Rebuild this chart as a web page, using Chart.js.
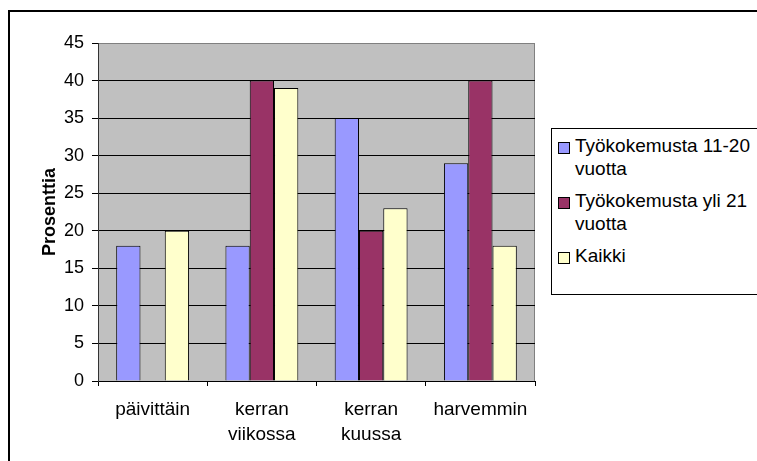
<!DOCTYPE html>
<html>
<head>
<meta charset="utf-8">
<script src="https://cdn.jsdelivr.net/npm/chart.js@4.4.1/dist/chart.umd.min.js"></script>
<style>
  html, body { margin: 0; padding: 0; background: #fff; overflow: hidden; }
  #wrap { position: relative; width: 757px; height: 461px; }
  #frame {
    position: absolute; left: 8px; top: 10px; width: 800px; height: 500px;
    border: 2px solid #000; box-sizing: border-box;
  }
  #chart { position: absolute; left: 0; top: 0; }
  #legend {
    position: absolute; left: 551px; top: 128px; width: 240px; height: 167px;
    border: 1px solid #000; background: #fff; box-sizing: border-box;
    font-family: Arial, "Liberation Sans", sans-serif; font-size: 19px; color: #000;
    padding-top: 5px;
  }
  .item { position: relative; padding-left: 23px; line-height: 23px; width: 195px; margin-bottom: 9px; }
  .swatch {
    position: absolute; left: 6px; top: 8px; width: 10px; height: 10px;
    border: 1px solid #000; box-sizing: content-box;
  }
</style>
</head>
<body>
<div id="wrap">
  <div id="frame"></div>
  <canvas id="chart" width="757" height="461"></canvas>
  <div id="legend"></div>
</div>
<script>
// Kategoriat ja sarjat
const categories = ['päivittäin', ['kerran', 'viikossa'], ['kerran', 'kuussa'], 'harvemmin'];
const seriesNames = ['Työkokemusta 11-20 vuotta', 'Työkokemusta yli 21 vuotta', 'Kaikki'];
const seriesColors = ['#9999FF', '#993366', '#FFFFCC'];
const kokemus11to20 = [18, 18, 35, 29];
const kokemusYli21 = [0, 40, 20, 40];
const kaikki = [20, 39, 23, 18];
const yTicks = [0, 5, 10, 15, 20, 25, 30, 35, 40, 45];

const FONT = 'Arial, "Liberation Sans", sans-serif';

// Harmaa piirtoalue ja sen reunat
const plotBackground = {
    id: 'plotBackground',
    beforeDraw(chart) {
        const { ctx, chartArea: a } = chart;
        ctx.save();
        ctx.fillStyle = '#C0C0C0';
        ctx.fillRect(a.left, a.top, a.right - a.left, a.bottom - a.top);
        ctx.strokeStyle = '#808080';
        ctx.lineWidth = 1;
        ctx.beginPath();
        ctx.moveTo(a.left, a.top + 0.5);
        ctx.lineTo(a.right - 0.5, a.top + 0.5);
        ctx.lineTo(a.right - 0.5, a.bottom);
        ctx.stroke();
        ctx.restore();
    }
};

const seriesData = [kokemus11to20, kokemusYli21, kaikki];

const chart = new Chart(document.getElementById('chart'), {
    type: 'bar',
    data: {
        labels: categories,
        datasets: seriesNames.map((name, i) => ({
            label: name,
            data: seriesData[i],
            backgroundColor: seriesColors[i],
            borderColor: '#000',
            borderWidth: 1,
            borderSkipped: 'start',
            categoryPercentage: 0.667,
            barPercentage: 1.0
        }))
    },
    options: {
        responsive: false,
        animation: false,
        layout: { padding: { left: 0, top: 43, right: 222, bottom: 0 } },
        plugins: {
            legend: { display: false },
            tooltip: { enabled: false }
        },
        scales: {
            x: {
                grid: {
                    offset: true,
                    drawOnChartArea: false,
                    color: '#000',
                    tickLength: 5
                },
                border: { color: '#000', width: 1 },
                ticks: {
                    color: '#000',
                    font: { family: FONT, size: 19, lineHeight: 1.32 },
                    padding: 11,
                    maxRotation: 0,
                    autoSkip: false
                },
                afterFit(scale) { scale.height = 80; }
            },
            y: {
                min: 0,
                max: 45,
                afterBuildTicks(scale) { scale.ticks = yTicks.map(v => ({ value: v })); },
                grid: {
                    color: ctx => (ctx.tick && ctx.tick.value === 45 ? '#808080' : '#000'),
                    tickColor: '#000',
                    tickLength: 6
                },
                border: { color: '#333', width: 1 },
                ticks: {
                    color: '#000',
                    font: { family: FONT, size: 18 },
                    padding: 8
                },
                title: {
                    display: true,
                    text: 'Prosenttia',
                    color: '#000',
                    font: { family: FONT, size: 18, weight: 'bold', lineHeight: 1.2 },
                    padding: { top: 39, bottom: 0 }
                },
                afterFit(scale) { scale.width = 98; }
            }
        }
    },
    plugins: [plotBackground]
});

// Selite oikealle laatikkoon
const legend = document.getElementById('legend');
chart.data.datasets.forEach(ds => {
    const item = document.createElement('div');
    item.className = 'item';
    const sw = document.createElement('span');
    sw.className = 'swatch';
    sw.style.background = ds.backgroundColor;
    item.appendChild(sw);
    item.appendChild(document.createTextNode(ds.label));
    legend.appendChild(item);
});
</script>
</body>
</html>
